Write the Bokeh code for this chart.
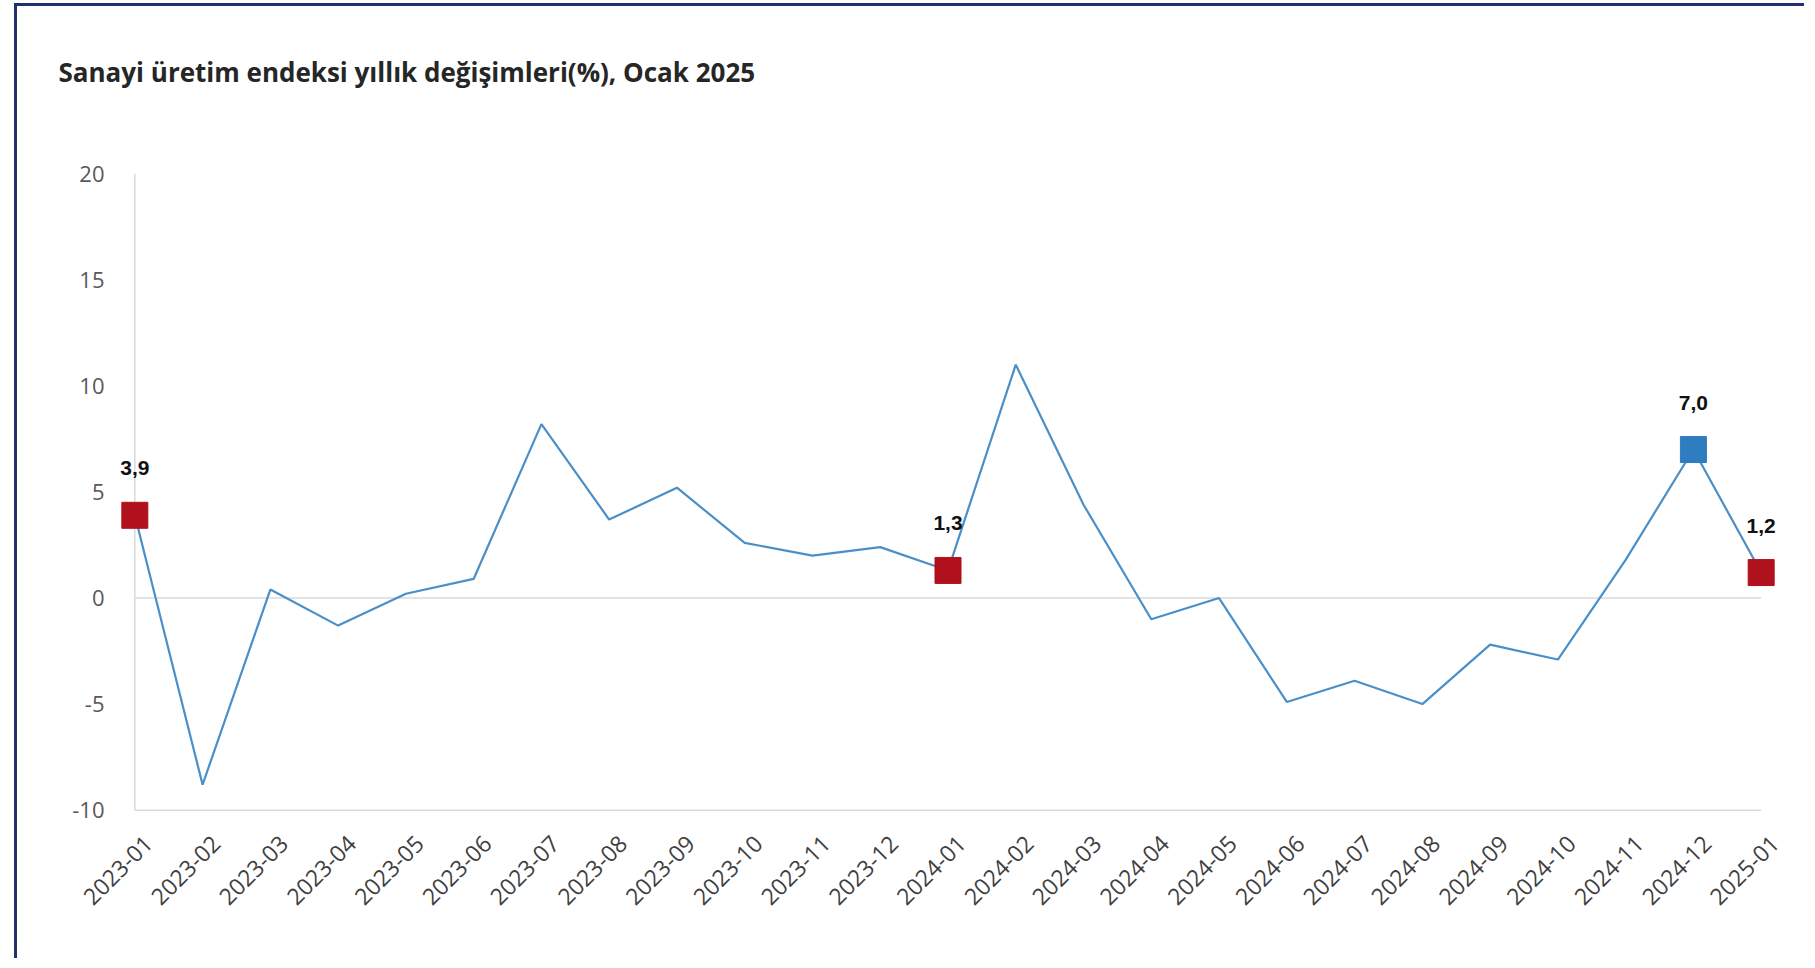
import math
from bokeh.plotting import figure
from bokeh.models import (Range1d, FixedTicker, ColumnDataSource, LabelSet,
                          LinearAxis)
from bokeh.core.properties import value
from bokeh.embed import file_html
from bokeh.resources import INLINE

# ---------------- data ----------------
months = ["2023-01", "2023-02", "2023-03", "2023-04", "2023-05", "2023-06",
          "2023-07", "2023-08", "2023-09", "2023-10", "2023-11", "2023-12",
          "2024-01", "2024-02", "2024-03", "2024-04", "2024-05", "2024-06",
          "2024-07", "2024-08", "2024-09", "2024-10", "2024-11", "2024-12",
          "2025-01"]
values = [3.9, -8.8, 0.4, -1.3, 0.2, 0.9, 8.2, 3.7, 5.2, 2.6, 2.0, 2.4,
          1.3, 11.0, 4.4, -1.0, 0.0, -4.9, -3.9, -5.0, -2.2, -2.9, 1.8, 7.0,
          1.2]
highlight_months = ["2023-01", "2024-01", "2024-12", "2025-01"]
highlight_labels = ["3,9", "1,3", "7,0", "1,2"]
highlight_colors = ["#B0111C", "#B0111C", "#2E7DC0", "#B0111C"]
y_ticks = [-10, -5, 0, 5, 10, 15, 20]
title_text = "Sanayi üretim endeksi yıllık değişimleri(%), Ocak 2025"

# ---------------- build ----------------
idx = list(range(len(months)))
hi_idx = [months.index(m) for m in highlight_months]
hi_vals = [values[i] for i in hi_idx]

line_src = ColumnDataSource(dict(x=idx, y=values))
hi_src = ColumnDataSource(dict(x=hi_idx, y=hi_vals, lab=highlight_labels,
                               col=highlight_colors))

pad_x, pad_lo, pad_hi, lab_shift = 0.3, 0.3, 2.23, 0.2
p = figure(width=1790, height=955, output_backend="svg", toolbar_location=None,
           x_range=Range1d(idx[0] - pad_x, idx[-1] + pad_x),
           y_range=Range1d(y_ticks[0] - pad_lo, y_ticks[-1] + pad_hi),
           x_axis_location=None,
           min_border_left=97, min_border_right=26,
           min_border_top=120, min_border_bottom=145)
p.extra_x_ranges = {"lab": Range1d(idx[0] - pad_x - lab_shift,
                                   idx[-1] + pad_x - lab_shift)}
p.styles = {"border-left": "3px solid #22306E",
            "border-top": "3px solid #22306E",
            "margin-left": "14px",
            "margin-top": "3px"}
p.outline_line_color = None
p.grid.visible = False
p.background_fill_color = "white"
p.border_fill_color = "white"

# title
p.title.text = title_text
p.title.align = "left"
p.title.offset = -56
p.title.standoff = 73
p.title.text_font = "Open Sans"
p.title.text_font_style = "bold"
p.title.text_font_size = "26px"
p.title.text_color = "#262626"

axis_col = "#DADADA"
p.line(x=[idx[0], idx[0]], y=[y_ticks[0], y_ticks[-1]], line_color=axis_col,
       line_width=1.5)
p.line(x=[idx[0], idx[-1]], y=[y_ticks[0], y_ticks[0]], line_color=axis_col,
       line_width=1.5)
p.line(x=[idx[0], idx[-1]], y=[0, 0], line_color=axis_col, line_width=1.5)

p.line("x", "y", source=line_src, line_color="#4A8FC7", line_width=2.2)
p.scatter("x", "y", source=hi_src, marker="square", size=26,
          fill_color="col", line_color="col")

labels = LabelSet(x="x", y="y", text="lab", source=hi_src, y_offset=40,
                  text_align="center", text_baseline="alphabetic",
                  text_font=value("Liberation Sans"), text_font_style="bold",
                  text_font_size="21px", text_color="#111111")
p.add_layout(labels)

# x axis
xa = LinearAxis(x_range_name="lab")
xa.ticker = FixedTicker(ticks=idx)
xa.major_label_overrides = {i: m for i, m in zip(idx, months)}
xa.major_label_orientation = math.pi / 4
xa.axis_line_color = None
xa.major_tick_line_color = None
xa.minor_tick_line_color = None
xa.major_label_text_font = "Open Sans"
xa.major_label_text_font_size = "23px"
xa.major_label_text_color = "#404040"
xa.major_label_standoff = 17
p.add_layout(xa, "below")

# y axis
ya = p.yaxis[0]
ya.ticker = FixedTicker(ticks=y_ticks)
ya.major_label_overrides = {t: str(t) for t in y_ticks}
ya.axis_line_color = None
ya.major_tick_line_color = None
ya.minor_tick_line_color = None
ya.major_tick_in = 0
ya.major_tick_out = 0
ya.major_label_text_font = "Open Sans"
ya.major_label_text_font_size = "22px"
ya.major_label_text_color = "#595959"
ya.major_label_standoff = 10

open("out.html", "w").write(file_html(p, INLINE))
